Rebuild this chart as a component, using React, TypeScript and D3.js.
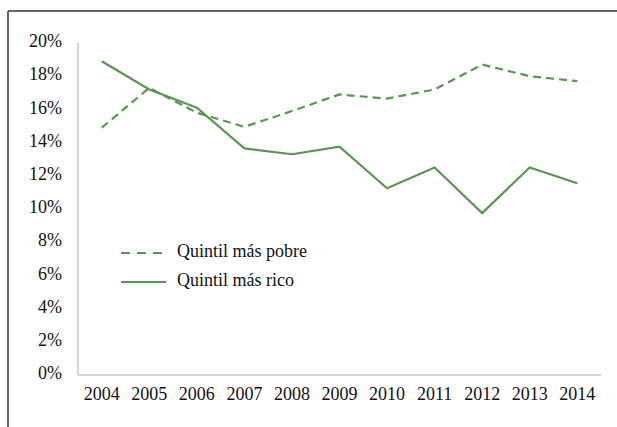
import * as d3 from 'd3'

const W = 617
const H = 427
const M = { top: 43, right: 16, bottom: 52, left: 78 }

const years = ['2004', '2005', '2006', '2007', '2008', '2009', '2010', '2011', '2012', '2013', '2014']
const poorest = [14.9, 17.3, 15.8, 14.95, 15.9, 16.9, 16.65, 17.2, 18.7, 18.0, 17.7]
const richest = [18.9, 17.2, 16.1, 13.65, 13.3, 13.75, 11.25, 12.5, 9.75, 12.5, 11.55]
const yTicks = [0, 2, 4, 6, 8, 10, 12, 14, 16, 18, 20]

const GREEN = '#5b9553'
const textStyle = { fontFamily: "'Liberation Serif'", fontSize: 18 }

export default function App() {
  const x = d3.scalePoint().domain(years).range([M.left, W - M.right]).padding(0.5)
  const y = d3.scaleLinear().domain([0, 20]).range([H - M.bottom, M.top])

  const line = d3
    .line<number>()
    .x((_, i) => x(years[i]) as number)
    .y((d) => y(d))

  const series = [
    { name: 'Quintil más pobre', values: poorest, dash: '8,5' },
    { name: 'Quintil más rico', values: richest, dash: null },
  ]

  return (
    <svg width={W} height={H} style={{ position: 'absolute', left: 0, top: 0, background: '#fff' }}>
      {/* frame (only top and left edges visible) */}
      <line x1={8} x2={W} y1={11} y2={11} stroke="#333" strokeWidth={1.5} />
      <line x1={8} x2={8} y1={11} y2={H} stroke="#333" strokeWidth={1.5} />

      {/* axes */}
      <line x1={M.left} x2={M.left} y1={y(20)} y2={y(0)} stroke="#c6c6c6" strokeWidth={1.5} />
      <line x1={M.left} x2={W - M.right} y1={y(0)} y2={y(0)} stroke="#c6c6c6" strokeWidth={1.5} />

      {yTicks.map((t) => (
        <text key={t} x={62} y={y(t)} textAnchor="end" dominantBaseline="middle" style={textStyle} fill="#111">
          {t}%
        </text>
      ))}
      {years.map((yr) => (
        <text key={yr} x={x(yr)} y={y(0) + 21} textAnchor="middle" dominantBaseline="middle" style={textStyle} fill="#111">
          {yr}
        </text>
      ))}

      {series.map((s) => (
        <path
          key={s.name}
          d={line(s.values) ?? ''}
          fill="none"
          stroke={GREEN}
          strokeWidth={2.2}
          strokeDasharray={s.dash ?? undefined}
        />
      ))}

      {/* legend */}
      {series.map((s, i) => (
        <g key={s.name} transform={`translate(121,${253 + i * 29})`}>
          <line x1={0} x2={45} y1={0} y2={0} stroke={GREEN} strokeWidth={2.2} strokeDasharray={s.dash ? '9,7' : undefined} />
          <text x={56} y={0} dominantBaseline="middle" style={textStyle} fill="#111">
            {s.name}
          </text>
        </g>
      ))}
    </svg>
  )
}
